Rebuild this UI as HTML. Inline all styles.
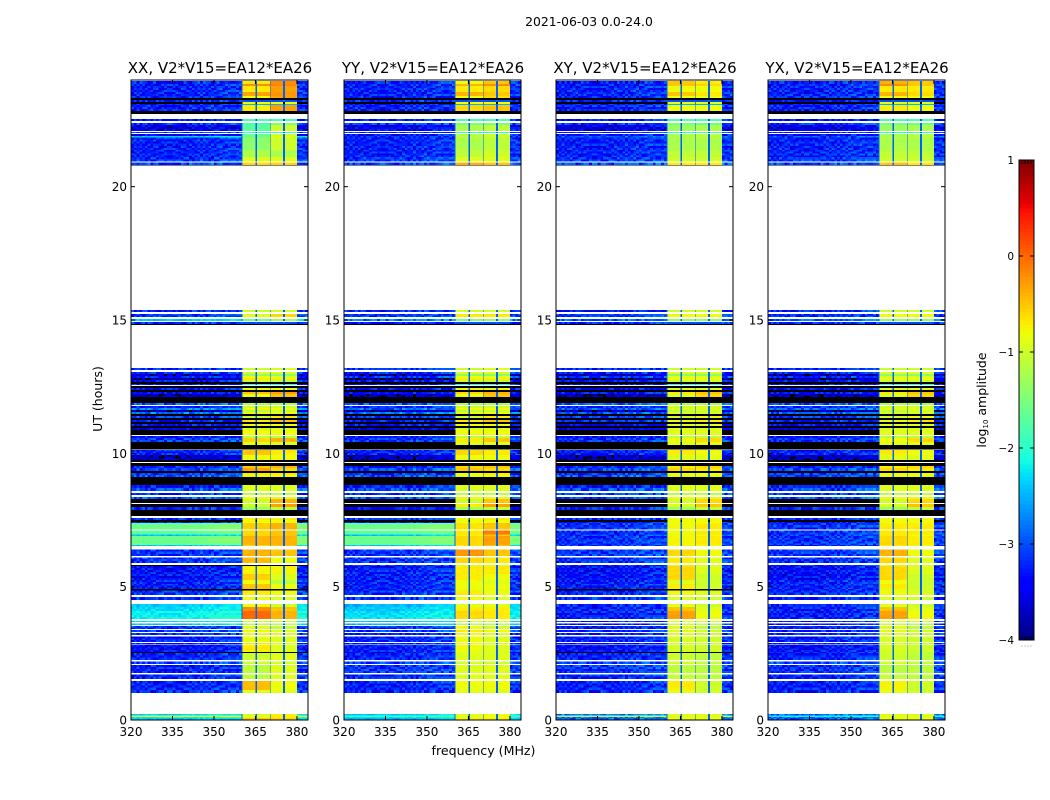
<!DOCTYPE html>
<html>
<head>
<meta charset="utf-8">
<title>2021-06-03 0.0-24.0</title>
<style>
html,body{margin:0;padding:0;background:#fff;}
svg{display:block;}
text{font-family:"DejaVu Sans","Liberation Sans",sans-serif;fill:#000;}
</style>
</head>
<body>
<svg id="chart" width="1050" height="800" viewBox="0 0 1050 800" xmlns="http://www.w3.org/2000/svg">
  <rect x="0" y="0" width="1050" height="800" fill="#fff"/>
  <text x="589" y="26" font-size="12.4" text-anchor="middle">2021-06-03 0.0-24.0</text>
  <text x="483.500" y="755" font-size="12.6" text-anchor="middle">frequency (MHz)</text>
  <text x="0" y="0" font-size="12.5" text-anchor="middle" transform="translate(102,399) rotate(-90)">UT (hours)</text>
  <text x="0" y="0" font-size="12.5" text-anchor="middle" transform="translate(986,400) rotate(-90)">log<tspan font-size="7" dy="2">10</tspan><tspan dy="-2"> amplitude</tspan></text>
  <g id="panels"></g>
  <g id="colorbar"></g>
</svg>
<script>
// Time rows (UT hours); anything not covered stays white (no data).
const rowTop = [
23.96,23.85,23.78,23.55,23.4,23.33,23.25,23.18,23.1,23.06,
22.84,22.54,22.39,22.31,22.05,21.98,21.9,21.84,21.38,21.11,
20.91,20.81,15.38,15.23,15.04,14.93,14.85,
13.2,13.05,12.98,12.9,12.83,12.75,12.68,12.6,12.53,12.45,
12.38,12.3,12.23,12.11,11.89,11.78,11.7,11.63,11.55,11.48,
11.4,11.33,11.25,11.18,11.1,11.03,10.95,10.88,10.65,10.58,
10.43,10.31,10.13,9.94,9.75,9.64,9.53,9.45,9.34,9.26,
9.19,9.11,9,8.81,8.7,8.51,8.36,8.29,8.1,7.99,
7.88,7.58,7.5,7.43,
7.38,7.1,6.96,6.9,6.56,6.4,6.1,5.81,5.78,5.48,
5.25,5.1,4.91,4.86,4.61,4.35,4.24,4.09,3.71,3.62,
3.53,3.38,3.26,3.13,2.89,2.55,2.51,2.19,2.06,1.71,
1.46,1.13,.23,.17,.11,.08];
const rowBottom = [
23.85,23.78,23.55,23.4,23.33,23.25,23.18,23.1,23.06,22.84,
22.73,22.46,22.31,22.09,22.01,21.9,21.84,21.38,21.11,20.94,
20.81,20.79,15.3,15.11,14.96,14.85,14.81,
13.13,12.98,12.9,12.83,12.75,12.68,12.6,12.56,12.45,12.38,
12.3,12.23,12.11,11.89,11.81,11.7,11.63,11.55,11.48,11.4,
11.33,11.25,11.18,11.1,11.03,10.95,10.88,10.69,10.58,10.43,
10.31,10.14,9.94,9.75,9.68,9.53,9.45,9.34,9.26,9.19,
9.11,9,8.81,8.7,8.59,8.44,8.29,8.14,7.99,7.88,
7.65,7.5,7.43,7.38,
7.15,6.96,6.9,6.56,6.53,6.15,5.89,5.78,5.48,5.25,
5.1,4.91,4.86,4.69,4.5,4.24,4.09,3.79,3.68,3.56,
3.41,3.3,3.19,2.93,2.55,2.51,2.25,2.1,1.76,1.54,
1.13,1.02,.17,.11,.08,0];

// Row indices flagged black across every panel and frequency.
const flaggedRows = [37,46,48,50,52,58,61,62,65,68,69,77];

// log10 amplitude per row. -9 marks a flagged (black) row.
const xxLow = [
-3.1,-3.1,-3.1,-3.1,-3.1,-9,-3.1,-9,-3.2,-3.1,
-9,-3.2,-3.0,-3.4,-3.1,-3.2,-2.4,-3.1,-3.1,-3.0,
-2.9,-9,-3.1,-3.0,-2.4,-3.1,-9,
-3.0,-3.1,-3.6,-3.0,-3.8,-3.2,-9,-3.2,-9,-3.2,
-9,-3.2,-3.6,-9,-2.8,-3.1,-2.6,-3.6,-2.6,-9,
-3.0,-9,-3.1,-9,-3.2,-9,-3.4,-9,-3.2,-3.0,
-9,-9,-3.1,-3.6,-9,-9,-3.1,-2.9,-9,-3.0,
-2.8,-9,-9,-3.1,-2.9,-3.0,-2.8,-9,-9,-3.1,
-9,-3.0,-9,-3.2,
-1.6,-1.7,-2.4,-1.6,-2.4,-3.0,-3.0,-9,-3.2,-3.2,
-3.1,-3.1,-9,-3.0,-3.0,-2.4,-2.3,-2.2,-2.3,-2.4,
-3.0,-3.0,-3.1,-3.1,-3.2,-9,-3.1,-2.9,-3.1,-3.1,
-3.1,-3.1,-2.3,-1.0,-2.2,-2.4];
const xxHighA = [
-.7,-.2,-.7,-.3,-.8,-9,-3,-.8,-2.5,-.7,
-9,-1.8,-1.8,-1.7,-2,-1.6,-1.6,-1.4,-1.2,-.9,
-.6,-9,-1,-.9,-1.6,-3,-9,
-1,-.9,-1.4,-.8,-.7,-1,-9,-2,-9,-.8,
-.7,-.5,-.8,-9,-1.2,-1,-.8,-1.1,-.8,-.8,
-1,-.8,-.7,-.6,-.8,-.4,-.9,-.8,-1.1,-.6,
-.9,-.9,-.5,-.8,-.9,-1,-.5,-.3,-.9,-.7,
-.9,-.9,-1,-.9,-.9,-1.1,-.8,-1,-1,-1.3,
-1.2,-.7,-.8,-.8,
-.55,-.6,-.6,-.4,-.6,-.4,-.45,-9,-.75,-.55,
-.8,-.5,-9,-.7,-.8,-.8,-.2,0,-1,-1.1,
-.9,-.8,-.85,-.85,-.7,-9,-1,-1,-1.1,-1.1,
-.45,-.9,-.9,-.9,-.9,-.5];
const xxHighB = [
-.2,-.15,-.3,-.25,-.3,-9,-3,-.8,-2.5,-.3,
-9,-1.8,-1.5,-1,-2,-1,-.8,-1,-1.2,-.9,
-.6,-9,-1,-.6,-1.3,-3,-9,
-.9,-.9,-1.4,-.9,-.7,-1.1,-9,-2,-9,-.8,
-.7,-.3,-.5,-9,-1.2,-1,-.8,-1,-.8,-.6,
-.7,-.9,-.5,-.6,-.8,-.5,-.9,-.8,-1.1,-.4,
-.9,-.9,-.7,-.8,-.9,-1.2,-.4,-.6,-.9,-.7,
-.8,-.9,-.9,-.9,-.9,-1.1,-.9,-.4,-.3,-1.1,
-1.2,-.7,-.8,-.8,
-.4,-.5,-.5,-.4,-.5,-.5,-.8,-9,-.75,-.9,
-1.1,-.8,-9,-.8,-.9,-1,-.5,-.4,-1,-1.1,
-1.1,-.9,-.9,-.9,-.9,-9,-.9,-1,-.9,-.9,
-.8,-.9,-.7,-.7,-.7,-.6];

const yyLow = [
-3.1,-3.1,-3.1,-3.1,-3.1,-9,-3.1,-9,-3.2,-3.1,
-9,-3.2,-3.0,-3.3,-3.1,-3.2,-3.0,-3.1,-3.1,-3.0,
-2.9,-9,-3.1,-3.0,-2.7,-3.1,-9,
-3.0,-3.1,-3.6,-3.0,-3.8,-3.2,-9,-3.2,-9,-3.2,
-9,-3.2,-3.6,-9,-2.8,-3.1,-2.7,-3.6,-2.7,-9,
-3.0,-9,-3.1,-9,-3.2,-9,-3.4,-9,-3.2,-3.0,
-9,-9,-3.1,-3.6,-9,-9,-3.1,-2.9,-9,-3.0,
-2.8,-9,-9,-3.1,-2.9,-3.0,-2.8,-9,-9,-3.1,
-9,-3.0,-9,-3.2,
-1.6,-1.7,-2.4,-1.6,-2.4,-3.0,-3.0,-3.1,-3.1,-3.1,
-3.1,-3.1,-3.1,-3.0,-3.0,-2.5,-2.4,-2.3,-2.4,-2.5,
-3.0,-3.0,-3.1,-3.1,-3.1,-3.2,-3.1,-2.9,-3.0,-3.0,
-3.1,-3.1,-2.4,-1.9,-2.3,-2.5];
const yyHighA = [
-.8,-.4,-.7,-.4,-.8,-9,-3,-.8,-2.5,-.6,
-9,-1.8,-1.5,-1.2,-2,-1.1,-1.1,-1.2,-1.1,-.9,
-.4,-9,-1,-.7,-1.5,-3,-9,
-1,-.9,-1.4,-.8,-.7,-1,-9,-2,-9,-.8,
-.7,-.6,-.8,-9,-1.2,-1,-.8,-1.1,-.8,-.8,
-1,-.8,-.7,-.6,-.8,-.6,-.9,-.8,-1.1,-.7,
-.9,-.9,-.6,-.8,-.9,-1,-.6,-.5,-.9,-.8,
-.9,-.9,-1,-.9,-.9,-1.1,-.8,-1,-.7,-1.3,
-1.2,-.8,-.8,-.8,
-.65,-.7,-.7,-.6,-.7,-.25,-.6,-.9,-.7,-.7,
-.8,-.8,-.9,-.7,-.8,-.9,-.7,-.6,-1,-1.1,
-.8,-.7,-.8,-.8,-.8,-.9,-.9,-1,-.9,-.9,
-.8,-.9,-.9,-.9,-.9,-.7];
const yyHighB = [
-.5,-.2,-.6,-.5,-.6,-9,-3,-.8,-2.5,-.5,
-9,-1.8,-1.5,-1.1,-2,-1,-1,-1.1,-1,-.9,
-.5,-9,-1,-.7,-1.4,-3,-9,
-.9,-.9,-1.4,-.9,-.7,-1.1,-9,-2,-9,-.8,
-.7,-.4,-.5,-9,-1.2,-1,-.8,-1,-.8,-.6,
-.7,-.9,-.5,-.6,-.8,-.5,-.9,-.8,-1.1,-.5,
-.9,-.9,-.7,-.8,-.9,-1.2,-.5,-.6,-.9,-.7,
-.8,-.9,-.9,-.9,-.9,-1.1,-.9,-.5,-.3,-1.1,
-1.2,-.7,-.8,-.8,
-.5,-.1,-.5,-.3,-.5,-.5,-.7,-.9,-.7,-.8,
-.9,-.8,-.9,-.8,-.9,-.9,-.7,-.7,-1,-1.1,
-1,-.8,-.9,-.9,-.9,-1,-.9,-1,-.9,-.9,
-.8,-.9,-.8,-.8,-.8,-.7];

const xyLow = [
-3.1,-3.1,-3.1,-3.1,-3.1,-9,-3.1,-9,-3.2,-3.1,
-9,-3.2,-3.0,-3.4,-3.1,-3.2,-2.8,-3.1,-3.1,-3.0,
-2.9,-9,-3.1,-3.0,-2.8,-3.1,-9,
-3.0,-3.1,-3.6,-3.0,-3.8,-3.2,-9,-3.2,-9,-3.2,
-9,-3.2,-3.6,-9,-2.8,-3.1,-2.8,-3.6,-2.8,-9,
-3.0,-9,-3.1,-9,-3.2,-9,-3.4,-9,-3.2,-3.0,
-9,-9,-3.1,-3.6,-9,-9,-3.1,-2.9,-9,-3.0,
-2.8,-9,-9,-3.1,-2.9,-3.0,-2.8,-9,-9,-3.1,
-9,-3.0,-9,-3.2,
-3.0,-3.0,-3.0,-3.0,-3.0,-3.0,-3.0,-3.1,-3.2,-3.2,
-3.1,-3.1,-9,-3.1,-3.0,-3.1,-3.1,-3.1,-3.1,-3.1,
-3.1,-3.1,-3.1,-3.1,-3.2,-9,-3.1,-2.9,-3.0,-3.1,
-3.1,-3.1,-2.6,-1.2,-2.6,-2.7];
const xyHighA = [
-.5,-.5,-.8,-.5,-.8,-9,-3,-.9,-2.5,-.8,
-9,-1.8,-1.5,-1.3,-2,-1.2,-1.2,-1.2,-1.1,-1,
-.7,-9,-1,-.8,-1.4,-3,-9,
-1,-.9,-1.4,-.9,-.8,-1,-9,-2,-9,-.9,
-.8,-.7,-.9,-9,-1.2,-1,-.9,-1.1,-.9,-.9,
-1,-.9,-.8,-.8,-.9,-.7,-.9,-.9,-1.1,-.8,
-.9,-.9,-.7,-.9,-.9,-1,-.7,-.6,-.9,-.8,
-.9,-.9,-1,-.9,-.9,-1.1,-.8,-1,-.9,-1.3,
-1.2,-.8,-.8,-.8,
-.8,-.8,-.8,-.75,-.8,-.6,-.7,-.9,-.6,-.6,
-.9,-.7,-9,-.8,-.9,-.9,-.5,-.3,-.9,-1,
-.9,-.9,-.9,-.95,-.95,-9,-1,-1,-1.1,-1.05,
-.7,-.9,-.9,-.9,-.9,-.8];
const xyHighB = [
-.7,-.6,-.8,-.7,-.8,-9,-3,-.9,-2.5,-.8,
-9,-1.8,-1.6,-1.2,-2,-1.1,-1.1,-1.2,-1.1,-1,
-.7,-9,-1,-.8,-1.4,-3,-9,
-1,-.9,-1.4,-.9,-.8,-1,-9,-2,-9,-.9,
-.8,-.5,-.6,-9,-1.2,-1,-.9,-1,-.9,-.8,
-.8,-.9,-.7,-.7,-.9,-.6,-.9,-.9,-1.1,-.6,
-.9,-.9,-.8,-.9,-.9,-1.2,-.6,-.7,-.9,-.8,
-.9,-.9,-.9,-.9,-.9,-1.1,-.9,-.6,-.5,-1.1,
-1.2,-.8,-.8,-.8,
-.7,-.7,-.8,-.7,-.8,-.8,-.9,-.9,-.9,-1,
-1,-1,-9,-.9,-1,-1,-.9,-.8,-1,-1.1,
-1.1,-1,-1,-1,-1,-9,-1.1,-1.1,-1.1,-1.1,
-1,-1,-.9,-.9,-.9,-.8];

const yxLow = [
-3.1,-3.1,-3.1,-3.1,-3.1,-9,-3.1,-9,-3.2,-3.1,
-9,-3.2,-3.0,-3.4,-3.1,-3.2,-2.9,-3.1,-3.1,-3.0,
-2.9,-9,-3.1,-3.0,-2.8,-3.1,-9,
-3.0,-3.1,-3.6,-3.0,-3.8,-3.2,-9,-3.2,-9,-3.2,
-9,-3.2,-3.6,-9,-2.8,-3.1,-2.8,-3.6,-2.8,-9,
-3.0,-9,-3.1,-9,-3.2,-9,-3.4,-9,-3.2,-3.0,
-9,-9,-3.1,-3.6,-9,-9,-3.1,-2.9,-9,-3.0,
-2.8,-9,-9,-3.1,-2.9,-3.0,-2.8,-9,-9,-3.1,
-9,-3.0,-9,-3.2,
-3.0,-3.0,-3.0,-3.0,-3.0,-3.0,-3.0,-3.1,-3.2,-3.2,
-3.1,-3.1,-3.1,-3.1,-3.0,-3.1,-3.1,-3.1,-3.1,-3.1,
-3.1,-3.1,-3.1,-3.1,-3.2,-3.2,-3.1,-2.9,-3.0,-3.1,
-3.1,-3.1,-2.7,-2.2,-2.7,-2.8];
const yxHighA = [
-.4,-.2,-.7,-.4,-.8,-9,-3,-.9,-2.5,-.7,
-9,-1.8,-1.5,-1.3,-2,-1.2,-1.2,-1.2,-1.1,-1,
-.5,-9,-1,-.8,-1.4,-3,-9,
-1,-.9,-1.4,-.9,-.8,-1,-9,-2,-9,-.9,
-.8,-.7,-.9,-9,-1.2,-1,-.9,-1.1,-.9,-.9,
-1,-.9,-.8,-.8,-.9,-.7,-.9,-.9,-1.1,-.8,
-.9,-.9,-.7,-.9,-.9,-1,-.7,-.6,-.9,-.8,
-.9,-.9,-1,-.9,-.9,-1.1,-.8,-1,-.9,-1.3,
-1.2,-.8,-.8,-.8,
-.7,-.7,-.7,-.6,-.7,-.4,-.6,-.9,-.6,-.6,
-.8,-.7,-.9,-.8,-.9,-.9,-.5,-.3,-.9,-1,
-.9,-.9,-.9,-.95,-.95,-1,-1,-1,-1.1,-1.05,
-.75,-.9,-.9,-.9,-.9,-.8];
const yxHighB = [
-.5,-.5,-.7,-.6,-.8,-9,-3,-.9,-2.5,-.8,
-9,-1.8,-1.6,-1.2,-2,-1.1,-1.1,-1.2,-1.1,-1,
-.7,-9,-1,-.8,-1.4,-3,-9,
-1,-.9,-1.4,-.9,-.8,-1,-9,-2,-9,-.9,
-.8,-.5,-.6,-9,-1.2,-1,-.9,-1,-.9,-.8,
-.8,-.9,-.7,-.7,-.9,-.6,-.9,-.9,-1.1,-.6,
-.9,-.9,-.8,-.9,-.9,-1.2,-.6,-.7,-.9,-.8,
-.9,-.9,-.9,-.9,-.9,-1.1,-.9,-.6,-.5,-1.1,
-1.2,-.8,-.8,-.8,
-.7,-.7,-.8,-.7,-.8,-.8,-.9,-.9,-.9,-1,
-1,-1,-1,-.9,-1,-1,-.9,-.8,-1,-1.1,
-1.1,-1,-1,-1,-1,-1.1,-1.1,-1.1,-1.1,-1.1,
-1,-1,-.9,-.9,-.9,-.8];

// Mottling seen in the low band (dex), read as typical pixel-to-pixel contrast.
const speckle = [-.28,.12,-.1,.3,-.34,.05,.2,-.18,.36,-.06,-.3,.16,.02,-.22,.26,-.12,.08,-.36,.22,-.02,.32,-.2,.1];
// Slight rise of the low band toward 345-358 MHz, one value per 4 MHz from 320 MHz.
const bandShape = [0,0,0,0,0,.03,.06,.1,.14,.14,.12];
// Frequency layout in MHz.
const subbandStart = [360.4,365.5,370.5,375.6];
const subbandEnd = [365.1,370.2,375,380];
const gapLevel = -2.9;
const quietBias = -0.17;

const panelNames = ["XX","YY","XY","YX"];
const panelTitleSuffix = ", V2*V15=EA12*EA26";
const xTickValues = [320,335,350,365,380];
const yTickValues = [0,5,10,15,20];
const cbarTickValues = [1,0,-1,-2,-3,-4];
const cbarTickLabels = ["1","0","\u22121","\u22122","\u22123","\u22124"];
const cbarEdgeTicks = [.2,.4,.6,.8];

const panelLows = [xxLow,yyLow,xyLow,yxLow];
const panelHighA = [xxHighA,yyHighA,xyHighA,yxHighA];
const panelHighB = [xxHighB,yyHighB,xyHighB,yxHighB];

const NS = "http://www.w3.org/2000/svg";
const panelLeft = [131,344,556,768];
const panelWidth = 177;
const plotTop = 80, plotBottom = 720;

function yScale(h){ return plotBottom - h*(plotBottom-plotTop)/24; }
function xScale(p,mhz){ return panelLeft[p] + (mhz-320)*panelWidth/64; }
function jet(v){
  if(v < -4) return "#000";
  const t = Math.max(0,Math.min(1,(v+4)/5));
  const seg = (pts)=>{
    for(let i=1;i<pts.length;i++){
      if(t<=pts[i][0]){
        const a=pts[i-1],b=pts[i];
        return a[1]+(b[1]-a[1])*(t-a[0])/(b[0]-a[0]);
      }
    }
    return pts[pts.length-1][1];
  };
  const r=seg([[0,0],[.35,0],[.66,1],[.89,1],[1,.5]]);
  const g=seg([[0,0],[.125,0],[.375,1],[.64,1],[.91,0],[1,0]]);
  const b=seg([[0,.5],[.11,1],[.34,1],[.65,0],[1,0]]);
  return "rgb("+Math.round(r*255)+","+Math.round(g*255)+","+Math.round(b*255)+")";
}
function addRect(parent,x,y,w,h,fill){
  const el=document.createElementNS(NS,"rect");
  el.setAttribute("x",x.toFixed(2));
  el.setAttribute("y",y.toFixed(2));
  el.setAttribute("width",w.toFixed(2));
  el.setAttribute("height",h.toFixed(2));
  el.setAttribute("fill",fill);
  return parent.appendChild(el);
}
function addText(parent,x,y,str,size,anchor){
  const el=document.createElementNS(NS,"text");
  el.setAttribute("x",x);
  el.setAttribute("y",y);
  el.setAttribute("font-size",size);
  el.setAttribute("text-anchor",anchor);
  el.textContent=str;
  return parent.appendChild(el);
}
function addLine(parent,x1,y1,x2,y2){
  const el=document.createElementNS(NS,"line");
  el.setAttribute("x1",x1);
  el.setAttribute("y1",y1);
  el.setAttribute("x2",x2);
  el.setAttribute("y2",y2);
  el.setAttribute("stroke","#000");
  el.setAttribute("stroke-width","1");
  return parent.appendChild(el);
}
function shapeAt(mhz){
  const i=Math.min(bandShape.length-1,Math.floor((mhz-320)/4));
  return bandShape[i];
}

const panelsGroup=document.getElementById("panels");
panelNames.forEach(function(name,p){
  const g=document.createElementNS(NS,"g");
  
  
  panelsGroup.appendChild(g);
  const cells=document.createElementNS(NS,"g");
  
  
  cells.setAttribute("shape-rendering","crispEdges");
  g.appendChild(cells);
  const low=panelLows[p], hiA=panelHighA[p], hiB=panelHighB[p];
  let stripCounter=0;
  rowTop.forEach(function(top,r){
    const bottom=rowBottom[r];
    const y0=yScale(top), y1=yScale(bottom);
    const flagged=flaggedRows.indexOf(r)>=0;
    const lv=flagged?-9:low[r], a=flagged?-9:hiA[r], b=flagged?-9:hiB[r];
    const allBlack=lv<-4 && a<-4 && b<-4;
    if(allBlack){
      const cell=addRect(cells,panelLeft[p],y0,panelWidth,y1-y0,"#000");
      
      
      return;
    }
    const strips=Math.max(1,Math.round((y1-y0)/2));
    const sh=(y1-y0)/strips;
    for(let s=0;s<strips;s++){
      const sy=y0+s*sh;
      stripCounter++;
      const gain=lv>-2?0.12:(lv>-2.6?0.4:1);
      const bias=lv<=-2.6?quietBias:0;
      if(lv<-4){
        const cell=addRect(cells,panelLeft[p],sy,panelWidth,sh,"#000");
        
        
      }else{
        for(let m=320;m<384;m+=(m>=360&&m<380)?20:1){
          let val,w;
          if(m>=360&&m<380){val=gapLevel;w=20;}
          else{val=lv+bias+shapeAt(m)+gain*speckle[(m*m+stripCounter*7+p*5)%speckle.length];w=1;}
          const cell=addRect(cells,xScale(p,m),sy,w*panelWidth/64,sh,jet(val));
          
          
        }
      }
      if(a>-4||b>-4){
        subbandStart.forEach(function(f0,k){
          const level=k<2?a:b;
          const f1=subbandEnd[k];
          const mid=(f0+f1)/2;
          [[f0,mid],[mid,f1]].forEach(function(seg,q){
            const tex=level<-4?level:level+0.08*speckle[(stripCounter*5+k*3+q*11+p)%speckle.length];
            const cell=addRect(cells,xScale(p,seg[0]),sy,xScale(p,seg[1])-xScale(p,seg[0]),sh,jet(tex));
            
            
          });
        });
      }
    }
  });
  const left=panelLeft[p], right=left+panelWidth;
  const frame=document.createElementNS(NS,"rect");
  frame.setAttribute("x",left);
  frame.setAttribute("y",plotTop);
  frame.setAttribute("width",panelWidth);
  frame.setAttribute("height",plotBottom-plotTop);
  frame.setAttribute("fill","none");
  frame.setAttribute("stroke","#000");
  frame.setAttribute("stroke-width","1");
  
  
  g.appendChild(frame);
  const title=addText(g,left+panelWidth/2+.5,73,name+panelTitleSuffix,15,"middle");
  
  
  xTickValues.forEach(function(v){
    const x=xScale(p,v);
    const t1=addLine(g,x,plotBottom,x,plotBottom-4);
    
    
    const t2=addLine(g,x,plotTop,x,plotTop+4);
    
    
    const lab=addText(g,x,736,String(v),12,"middle");
    
    
  });
  yTickValues.forEach(function(v){
    const y=yScale(v);
    const t1=addLine(g,left,y,left+4,y);
    
    
    const t2=addLine(g,right,y,right-4,y);
    
    
    const lab=addText(g,left-4,y+4.500,String(v),12,"end");
    
    
  });
});

// Colorbar
const cbarGroup=document.getElementById("colorbar");
const cbarLeft=1019,cbarWidth=15,cbarTop=160,cbarBottom=640;
function cbarY(v){ return cbarBottom-(v+4)*(cbarBottom-cbarTop)/5; }
const ramp=document.createElementNS(NS,"g");
ramp.setAttribute("shape-rendering","crispEdges");


cbarGroup.appendChild(ramp);
for(let i=0;i<120;i++){
  const v0=-4+i*5/120;
  const cell=addRect(ramp,cbarLeft,cbarY(v0+5/120),cbarWidth,cbarY(v0)-cbarY(v0+5/120)+.5,jet(v0+2.5/120));
  
  
}
const cbFrame=document.createElementNS(NS,"rect");
cbFrame.setAttribute("x",cbarLeft);
cbFrame.setAttribute("y",cbarTop);
cbFrame.setAttribute("width",cbarWidth);
cbFrame.setAttribute("height",cbarBottom-cbarTop);
cbFrame.setAttribute("fill","none");
cbFrame.setAttribute("stroke","#000");
cbFrame.setAttribute("stroke-width","1");


cbarGroup.appendChild(cbFrame);
cbarTickValues.forEach(function(v,i){
  const y=cbarY(v);
  const t1=addLine(cbarGroup,cbarLeft,y,cbarLeft+4,y);
  
  
  const t2=addLine(cbarGroup,cbarLeft+cbarWidth,y,cbarLeft+cbarWidth-4,y);
  
  
  const lab=addText(cbarGroup,cbarLeft-5,y+4,cbarTickLabels[i],10.5,"end");
  
  
});
cbarEdgeTicks.forEach(function(f){
  const x=cbarLeft+f*cbarWidth;
  const t1=addLine(cbarGroup,x,cbarTop,x,cbarTop+4);
  
  
  const t2=addLine(cbarGroup,x,cbarBottom,x,cbarBottom-4);
  
  
  const dot=addRect(cbarGroup,x-.5,645.500,1,1,"#999");
  
  
});
</script>
</body>
</html>
